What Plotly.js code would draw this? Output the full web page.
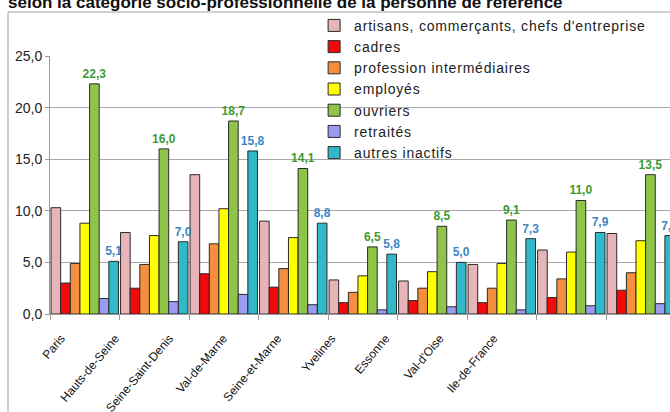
<!DOCTYPE html>
<html>
<head>
<meta charset="utf-8">
<script src="https://cdn.plot.ly/plotly-3.0.1.min.js"></script>
<style>
html,body{margin:0;padding:0;background:#fff;}
#chart{width:670px;height:412px;}
.legendtext{letter-spacing:0.8px;}
</style>
</head>
<body>
<div id="chart"></div>
<script>
const categories = ["Paris","Hauts-de-Seine","Seine-Saint-Denis","Val-de-Marne","Seine-et-Marne","Yvelines","Essonne","Val-d'Oise","Ile-de-France"];
const artisans  = [10.3, 7.9, 13.5, 9.0, 3.3, 3.2, 4.8, 6.2, 7.8];
const cadres    = [3.0, 2.5, 3.9, 2.6, 1.1, 1.3, 1.1, 1.6, 2.3];
const profInter = [4.9, 4.8, 6.8, 4.4, 2.1, 2.5, 2.5, 3.4, 4.0];
const employes  = [8.8, 7.6, 10.2, 7.4, 3.7, 4.1, 4.9, 6.0, 7.1];
const ouvriers  = [22.3, 16.0, 18.7, 14.1, 6.5, 8.5, 9.1, 11.0, 13.5];
const retraites = [1.5, 1.2, 1.9, 0.9, 0.4, 0.7, 0.4, 0.8, 1.0];
const autres    = [5.1, 7.0, 15.8, 8.8, 5.8, 5.0, 7.3, 7.9, 7.6];
const seriesNames = ["artisans, commerçants, chefs d'entreprise","cadres","profession intermédiaires","employés","ouvriers","retraités","autres inactifs"];
const titleText = "selon la catégorie socio-professionnelle de la personne de référence";

const colors = ["#E7B4B8","#F20A0A","#F58F3E","#FFFF00","#8EC549","#9C9BF2","#31B9C9"];
const seriesValues = [artisans, cadres, profInter, employes, ouvriers, retraites, autres];
const labelColors = {4: "#3E9A33", 6: "#3C86C4"};
const baseFont = "Liberation Sans, Arial, sans-serif";
const narrowFont = "Liberation Sans Narrow, Arial Narrow, Liberation Sans, Arial, sans-serif";

const traces = seriesValues.map((vals, k) => {
  const t = {
    type: "bar",
    name: seriesNames[k],
    x: categories,
    y: vals,
    marker: {color: colors[k], line: {color: "#2a2a2a", width: 1}},
    hoverinfo: "skip"
  };
  if (labelColors[k]) {
    t.texttemplate = "%{y:.1f}";
    t.textposition = "outside";
    t.constraintext = "none";
    t.cliponaxis = false;
    t.textfont = {family: baseFont, size: 12, color: labelColors[k], weight: "bold"};
  }
  return t;
});

// invisible helper trace carrying the category label axis
traces.push({
  type: "scatter", mode: "markers", xaxis: "x2", yaxis: "y",
  x: categories.map((c, i) => i), y: categories.map(() => 0),
  marker: {opacity: 0}, showlegend: false, hoverinfo: "skip"
});

const layout = {
  width: 670, height: 412,
  margin: {l: 50, r: 0, t: 56, b: 98, pad: 0},
  paper_bgcolor: "#fff", plot_bgcolor: "rgba(0,0,0,0)",
  separators: ", ",
  barmode: "group", bargap: 0.03, bargroupgap: 0,
  showlegend: true,
  title: {
    text: "<b>" + titleText + "</b>",
    font: {family: baseFont, size: 17, color: "#111"},
    x: 8/670, xanchor: "left", xref: "container",
    y: 0.996, yanchor: "middle", yref: "container"
  },
  legend: {
    x: 0.426, xanchor: "left", y: 1.179, yanchor: "top",
    bgcolor: "rgba(0,0,0,0)", borderwidth: 0,
    font: {family: baseFont, size: 14, color: "#222"},
    traceorder: "normal", itemwidth: 30
  },
  xaxis: {
    type: "category", range: [-0.5, 8.42],
    tickson: "boundaries", ticks: "outside", ticklen: 5, tickcolor: "#9a9a9a",
    showline: true, linecolor: "#9a9a9a", linewidth: 1,
    showgrid: false, zeroline: false, showticklabels: false
  },
  xaxis2: {
    overlaying: "x", anchor: "y", side: "bottom",
    range: [-0.203, 11.257],
    tickmode: "array", tickvals: categories.map((c, i) => i), ticktext: categories,
    tickangle: -50, ticks: "", showline: false, showgrid: false, zeroline: false,
    ticklabelstandoff: 14,
    tickfont: {family: narrowFont, size: 12, color: "#111"}
  },
  yaxis: {
    range: [0, 25], dtick: 5, tickformat: ".1f",
    showgrid: true, gridcolor: "#a8a8a8", gridwidth: 1,
    showline: true, linecolor: "#9a9a9a", linewidth: 1,
    ticks: "outside", ticklen: 4, tickcolor: "#9a9a9a",
    zeroline: false,
    tickfont: {family: narrowFont, size: 14, color: "#222"}
  },
  shapes: [{
    type: "rect", xref: "paper", yref: "paper",
    x0: (8 - 50) / 620, x1: 2, y0: -1, y1: (314 - 12) / 258,
    line: {color: "#a0a0a0", width: 1}, fillcolor: "rgba(0,0,0,0)", layer: "below"
  }]
};

Plotly.newPlot("chart", traces, layout, {staticPlot: true, displayModeBar: false});
</script>
</body>
</html>
